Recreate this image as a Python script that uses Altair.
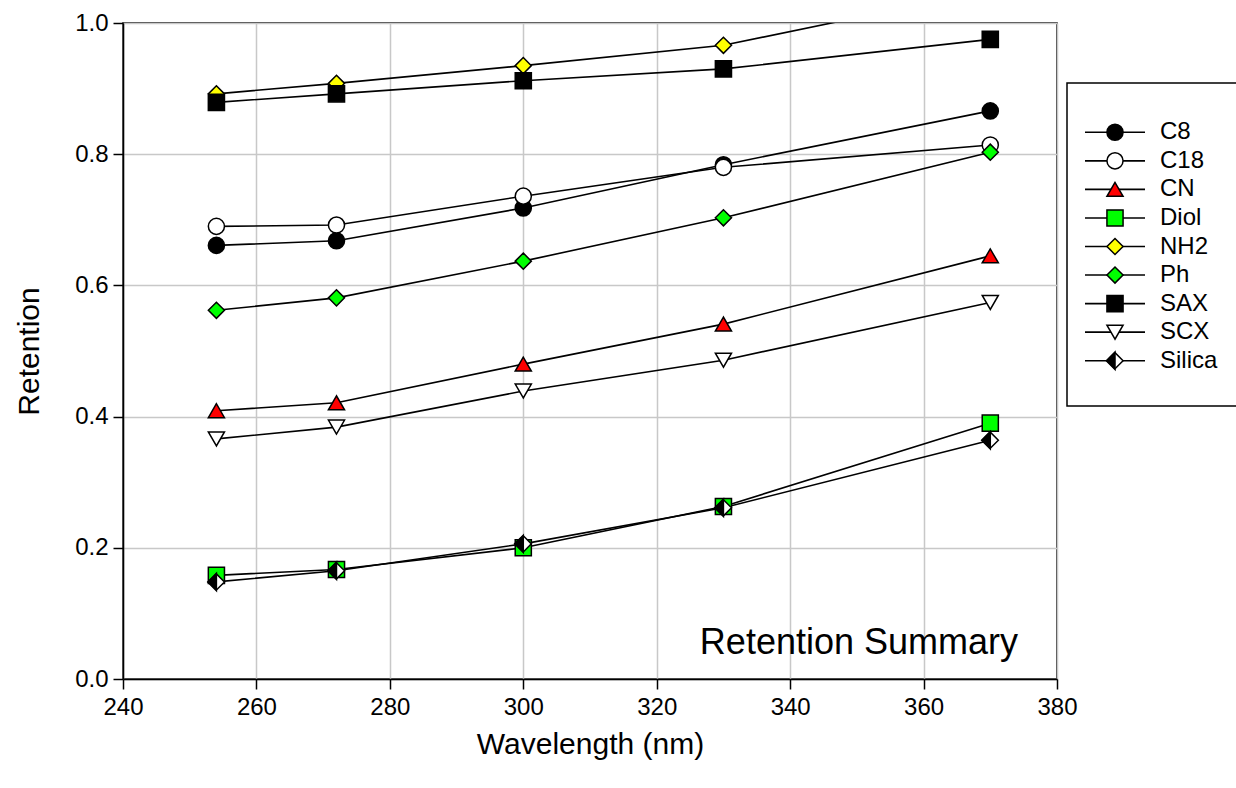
import altair as alt
import pandas as pd

# ---- data ----
wavelengths = [254, 272, 300, 330, 370]
series_names = ["C8", "C18", "CN", "Diol", "NH2", "Ph", "SAX", "SCX", "Silica"]
C8 = [0.661, 0.668, 0.718, 0.784, 0.866]
C18 = [0.690, 0.692, 0.736, 0.780, 0.814]
CN = [0.409, 0.421, 0.480, 0.541, 0.645]
Diol = [0.158, 0.167, 0.200, 0.263, 0.390]
NH2 = [0.892, 0.908, 0.935, 0.966, 1.050]
Ph = [0.562, 0.581, 0.637, 0.703, 0.803]
SAX = [0.879, 0.892, 0.912, 0.930, 0.975]
SCX = [0.366, 0.384, 0.439, 0.486, 0.574]
Silica = [0.148, 0.165, 0.206, 0.261, 0.364]
x_ticks = [240, 260, 280, 300, 320, 340, 360, 380]
y_ticks = [0.0, 0.2, 0.4, 0.6, 0.8, 1.0]

values = {"C8": C8, "C18": C18, "CN": CN, "Diol": Diol, "NH2": NH2,
          "Ph": Ph, "SAX": SAX, "SCX": SCX, "Silica": Silica}

# ---- styles ----
shapes = ["circle", "circle", "triangle-up", "square", "diamond", "diamond",
          "square", "triangle-down", "diamond"]
fills = ["#000000", "#ffffff", "#ff0000", "#00ff00", "#ffff00", "#00ff00",
         "#000000", "#ffffff", "#ffffff"]
sizes = [260, 260, 240, 220, 300, 300, 220, 240, 300]
HALF_DIAMOND = "M 0 -1 L -1 0 L 0 1 Z"
FONT = "Liberation Sans, Arial, sans-serif"

rows = []
for s in series_names:
    for w, v in zip(wavelengths, values[s]):
        rows.append({"series": s, "wavelength": w, "retention": v})
df = pd.DataFrame(rows)
leg_df = pd.DataFrame({"series": series_names})

xscale = alt.Scale(domain=[240, 380], nice=False, zero=False)
yscale = alt.Scale(domain=[0, 1], nice=False, zero=False)
shape_scale = alt.Scale(domain=series_names, range=shapes)
fill_scale = alt.Scale(domain=series_names, range=fills)
size_scale = alt.Scale(domain=series_names, range=sizes)

X = alt.X("wavelength:Q", scale=xscale,
          axis=alt.Axis(values=x_ticks, format="d", title="Wavelength (nm)",
                        grid=True, labelFlush=False, labelPadding=6, titlePadding=10))
Y = alt.Y("retention:Q", scale=yscale,
          axis=alt.Axis(values=y_ticks, format=".1f", title="Retention",
                        grid=True, labelFlush=False, labelPadding=5, titlePadding=30))

lines = alt.Chart(df).mark_line(color="black", strokeWidth=1.6, clip=True).encode(
    x=X, y=Y, detail="series:N")

points = alt.Chart(df).mark_point(filled=True, stroke="black", strokeWidth=1.5,
                                  opacity=1, clip=True).encode(
    x="wavelength:Q", y="retention:Q",
    shape=alt.Shape("series:N", scale=shape_scale, legend=None),
    fill=alt.Fill("series:N", scale=fill_scale, legend=None),
    size=alt.Size("series:N", scale=size_scale, legend=None),
)

half = alt.Chart(df[df.series == "Silica"]).mark_point(
    shape=HALF_DIAMOND, filled=True, fill="black", stroke="black",
    strokeWidth=1.5, opacity=1, size=300, clip=True).encode(
    x="wavelength:Q", y="retention:Q")

note = alt.Chart(pd.DataFrame({"t": ["Retention Summary"]})).mark_text(
    align="right", baseline="middle", font=FONT, fontSize=36, color="black").encode(
    text="t:N", x=alt.value(895), y=alt.value(620))

data_layer = alt.layer(lines, points, half, note)

# ---- legend (drawn as its own small layer) ----
LY = alt.Y("series:N", scale=alt.Scale(domain=series_names, range=[95, 352], padding=0),
           axis=None)

box = alt.Chart(pd.DataFrame({"a": [0]})).mark_rect(
    fill="white", stroke="black", strokeWidth=1.5).encode(
    x=alt.value(944), x2=alt.value(1120), y=alt.value(60), y2=alt.value(383))

leg_rules = alt.Chart(leg_df).mark_rule(color="black", strokeWidth=1.6).encode(
    x=alt.value(962), x2=alt.value(1022), y=LY)

leg_points = alt.Chart(leg_df).mark_point(filled=True, stroke="black", strokeWidth=1.5,
                                          opacity=1).encode(
    x=alt.value(992), y=LY,
    shape=alt.Shape("series:N", scale=shape_scale, legend=None),
    fill=alt.Fill("series:N", scale=fill_scale, legend=None),
    size=alt.Size("series:N", scale=size_scale, legend=None))

leg_half = alt.Chart(leg_df[leg_df.series == "Silica"]).mark_point(
    shape=HALF_DIAMOND, filled=True, fill="black", stroke="black",
    strokeWidth=1.5, opacity=1, size=300).encode(x=alt.value(992), y=LY)

leg_text = alt.Chart(leg_df).mark_text(
    align="left", baseline="middle", font=FONT, fontSize=24, color="black").encode(
    x=alt.value(1037), y=LY, text="series:N")

legend_layer = alt.layer(box, leg_rules, leg_points, leg_half, leg_text)

chart = alt.layer(data_layer, legend_layer).resolve_scale(y="independent").properties(
    width=934, height=656,
    background="white",
    autosize=alt.AutoSizeParams(type="none"),
    padding={"left": 123, "top": 23, "right": 179, "bottom": 109},
).configure_view(stroke="black", strokeWidth=1.5).configure_axis(
    labelFont=FONT, labelFontSize=24, labelColor="black",
    titleFont=FONT, titleFontSize=30, titleFontWeight="normal", titleColor="black",
    tickColor="black", tickSize=10, tickWidth=1.5,
    domainColor="black", domainWidth=1.5,
    gridColor="#c8c8c8", gridWidth=1.5,
)

chart.save("out.html", embed_options={"renderer": "svg", "actions": False})
